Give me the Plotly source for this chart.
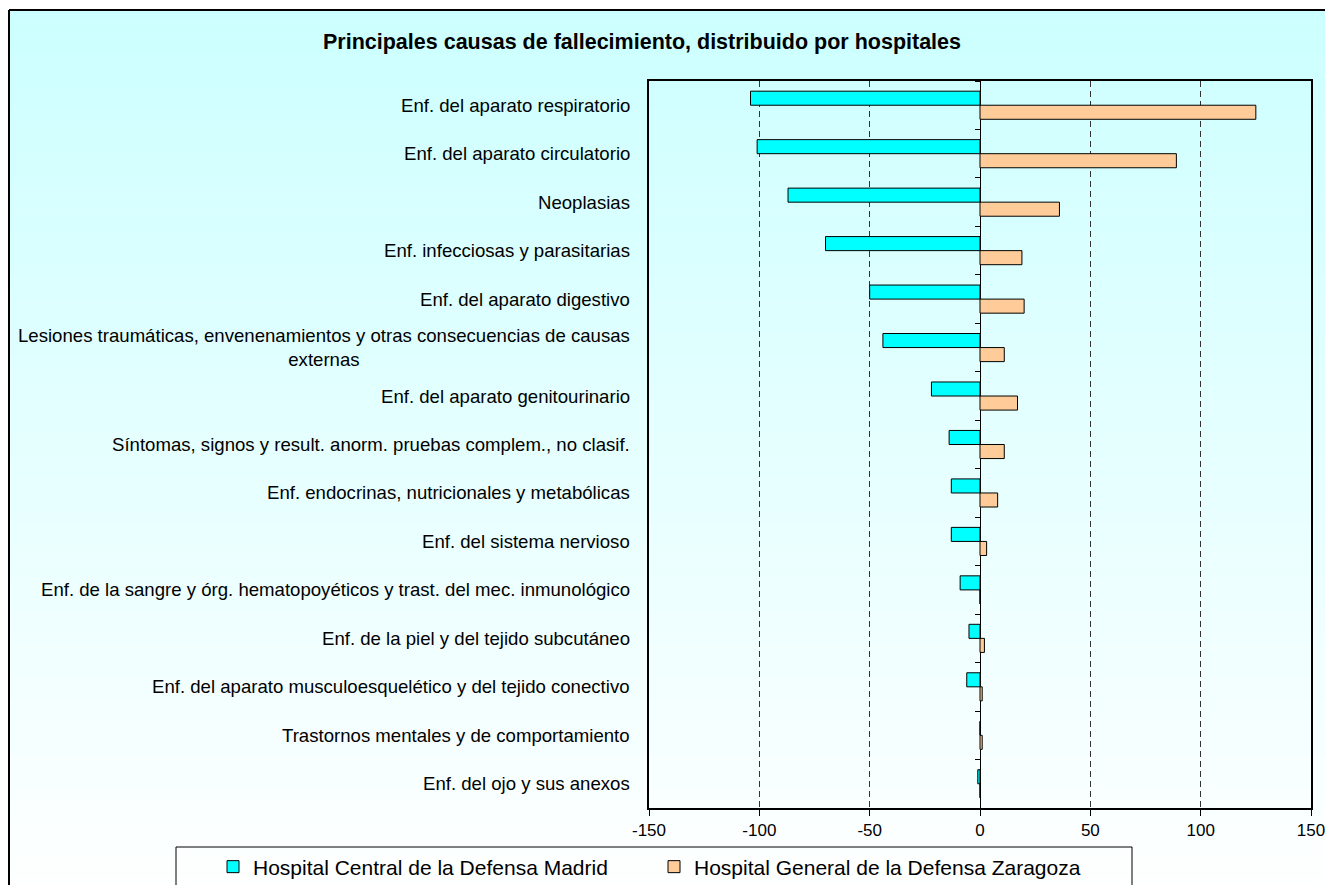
import plotly.graph_objects as go

categories = [
    "Enf. del aparato respiratorio",
    "Enf. del aparato circulatorio",
    "Neoplasias",
    "Enf. infecciosas y parasitarias",
    "Enf. del aparato digestivo",
    "Lesiones traumáticas, envenenamientos y otras consecuencias de causas<br>externas",
    "Enf. del aparato genitourinario",
    "Síntomas, signos y result. anorm. pruebas complem., no clasif.",
    "Enf. endocrinas, nutricionales y metabólicas",
    "Enf. del sistema nervioso",
    "Enf. de la sangre y órg. hematopoyéticos y trast. del mec. inmunológico",
    "Enf. de la piel y del tejido subcutáneo",
    "Enf. del aparato musculoesquelético y del tejido conectivo",
    "Trastornos mentales y de comportamiento",
    "Enf. del ojo y sus anexos",
]
madrid = [-104, -101, -87, -70, -50, -44, -22, -14, -13, -13, -9, -5, -6, 0, -1]
zaragoza = [125, 89, 36, 19, 20, 11, 17, 11, 8, 3, 0, 2, 1, 1, 0]
series_names = ["Hospital Central de la Defensa Madrid", "Hospital General de la Defensa Zaragoza"]
x_ticks = [-150, -100, -50, 0, 50, 100, 150]
title_text = "Principales causas de fallecimiento, distribuido por hospitales"

# page offset (browser body margin)
OFF = 8
W, H = 1333 - OFF, 885 - OFF
# plot area in screen (reference) pixels
L, R, T, B = 649, 1311, 81, 808

def px_x(px):
    return (px - L) / (R - L)

def px_y(py):
    return (B - py) / (B - T)

FONT = "Liberation Sans, Arial, sans-serif"

fig = go.Figure()
fig.add_trace(go.Bar(
    y=categories, x=madrid, orientation="h", name=series_names[0],
    marker=dict(color="#00FFFF", line=dict(color="black", width=1)),
))
fig.add_trace(go.Bar(
    y=categories, x=zaragoza, orientation="h", name=series_names[1],
    marker=dict(color="#FFCC99", line=dict(color="black", width=1)),
))
# invisible helper trace so the category tick marks can sit on the zero line
fig.add_trace(go.Scatter(
    y=categories, x=[0] * len(categories), yaxis="y2", mode="markers",
    marker=dict(opacity=0), showlegend=False, hoverinfo="skip",
))

shapes = []
# background gradient (cyan -> white)
N = 80
y0, y1 = 10, 900
for i in range(N):
    a = y0 + (y1 - y0) * i / N
    b = y0 + (y1 - y0) * (i + 1) / N
    t = (i + 0.5) / N
    r = int(round(204 + (255 - 204) * t))
    shapes.append(dict(
        type="rect", xref="paper", yref="paper", layer="below",
        x0=px_x(9), x1=px_x(1345), y0=px_y(a), y1=px_y(b + 0.5),
        fillcolor=f"rgb({r},255,255)", line=dict(width=0),
    ))
# outer chart border (top and left visible)
shapes.append(dict(type="line", xref="paper", yref="paper",
                   x0=px_x(9), x1=px_x(1345), y0=px_y(10), y1=px_y(10),
                   line=dict(color="black", width=2)))
shapes.append(dict(type="line", xref="paper", yref="paper",
                   x0=px_x(9), x1=px_x(9), y0=px_y(10), y1=px_y(900),
                   line=dict(color="black", width=2)))
# legend box
shapes.append(dict(type="rect", xref="paper", yref="paper",
                   x0=px_x(176), x1=px_x(1132), y0=px_y(847), y1=px_y(900),
                   line=dict(color="black", width=1), fillcolor="rgba(0,0,0,0)"))

annotations = []
for c in categories:
    annotations.append(dict(
        x=0, xref="paper", y=c, yref="y", xanchor="right", yanchor="middle",
        xshift=-17, text=c, showarrow=False, align="center",
        font=dict(family=FONT, size=18.6, color="black"),
    ))

n = len(categories)
fig.update_layout(
    width=W, height=H,
    margin=dict(l=L - OFF, r=W - (R - OFF), t=T - OFF, b=H - (B - OFF), pad=0,
                autoexpand=False),
    paper_bgcolor="white",
    plot_bgcolor="rgba(0,0,0,0)",
    barmode="group", bargap=0.42, bargroupgap=0,
    title=dict(text="<b>" + title_text + "</b>", x=(642 - OFF) / W, xref="container",
               xanchor="center", y=1 - (41 - OFF) / H, yanchor="middle",
               font=dict(family=FONT, size=21.5, color="black")),
    xaxis=dict(
        range=[-150, 150], tickvals=x_ticks, ticktext=[str(v) for v in x_ticks],
        ticks="outside", ticklen=6, tickcolor="black", tickwidth=1,
        showgrid=True, gridcolor="#333333", griddash="6px,4px", gridwidth=1.3,
        zeroline=True, zerolinecolor="black", zerolinewidth=1.3,
        showline=True, linecolor="black", linewidth=2, mirror=True,
        tickfont=dict(family=FONT, size=17, color="black"),
    ),
    yaxis=dict(
        type="category", categoryorder="array", categoryarray=categories,
        range=[n - 0.5, -0.5], showticklabels=False, ticks="",
        showgrid=False, zeroline=False,
        showline=True, linecolor="black", linewidth=2, mirror=True,
    ),
    yaxis2=dict(
        type="category", categoryorder="array", categoryarray=categories,
        range=[n - 0.5, -0.5], overlaying="y", anchor="free", position=0.5,
        side="left", showticklabels=False, ticks="outside", ticklen=5,
        tickcolor="black", tickson="boundaries", showgrid=False,
        zeroline=False, showline=False,
    ),
    legend=dict(
        orientation="h", x=px_x(213), xanchor="left", y=px_y(867), yanchor="middle",
        bgcolor="rgba(0,0,0,0)", borderwidth=0,
        font=dict(family=FONT, size=21, color="black"),
        itemwidth=30, entrywidth=396, traceorder="normal",
    ),
    shapes=shapes,
    annotations=annotations,
    showlegend=True,
)

fig.write_html("out.html")
